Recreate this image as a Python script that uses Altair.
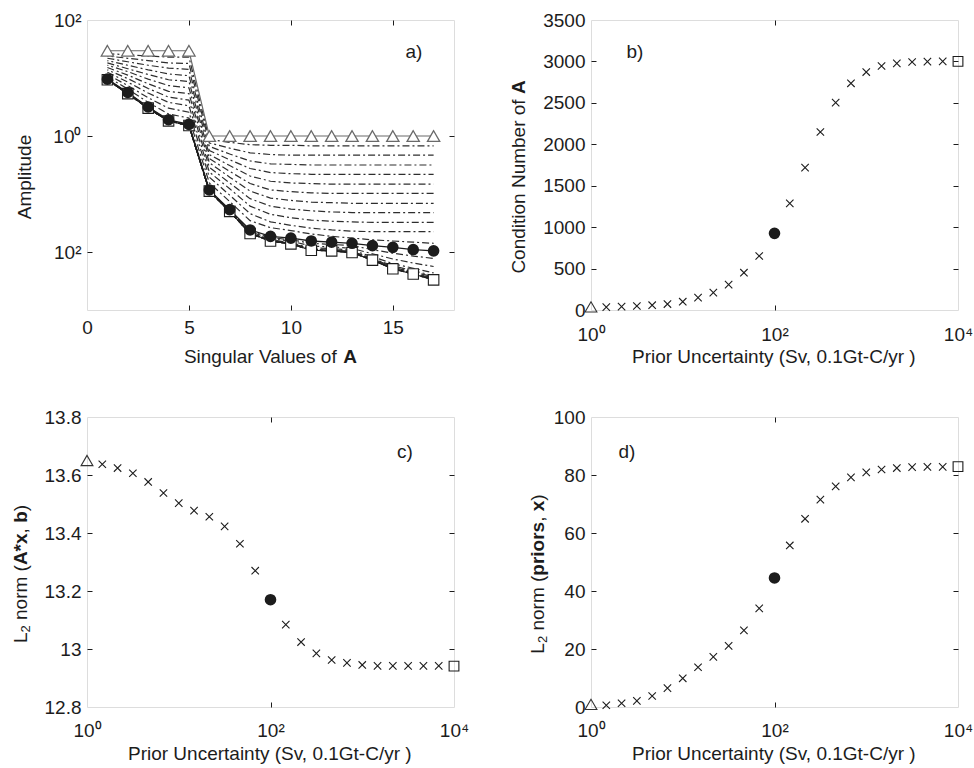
import altair as alt
import pandas as pd

FONT = "Liberation Sans, Arial, Helvetica, sans-serif"
INK = "#1c1c1c"
FS = 19
W, H = 367, 290

# ---------------- panel a: log10(amplitude) per singular value ----------------
sv = [1, 2, 3, 4, 5, 6, 7, 8, 9, 10, 11, 12, 13, 14, 15, 16, 17]
prior_log = [1.47, 1.47, 1.47, 1.47, 1.47, 0, 0, 0, 0, 0, 0, 0, 0, 0, 0, 0, 0]
circle_log = [0.98, 0.75, 0.50, 0.28, 0.20, -0.93, -1.27, -1.62, -1.73, -1.76, -1.81, -1.83, -1.85, -1.89, -1.92, -1.96, -1.98]
square_log = [0.97, 0.73, 0.48, 0.26, 0.18, -0.95, -1.30, -1.68, -1.81, -1.86, -1.97, -1.98, -2.01, -2.14, -2.29, -2.38, -2.48]

upper_lines = [
    [1.42, 1.40, 1.38, 1.36, 1.36, -0.06, -0.11, -0.15, -0.16, -0.16, -0.17, -0.17, -0.17, -0.17, -0.17, -0.17, -0.17],
    [1.38, 1.34, 1.30, 1.26, 1.25, -0.12, -0.21, -0.29, -0.32, -0.33, -0.33, -0.33, -0.33, -0.33, -0.33, -0.33, -0.33],
    [1.34, 1.28, 1.22, 1.17, 1.15, -0.18, -0.31, -0.43, -0.48, -0.49, -0.50, -0.50, -0.50, -0.50, -0.50, -0.50, -0.50],
    [1.30, 1.22, 1.14, 1.07, 1.04, -0.25, -0.41, -0.56, -0.63, -0.65, -0.66, -0.66, -0.66, -0.66, -0.66, -0.66, -0.66],
    [1.26, 1.16, 1.06, 0.97, 0.94, -0.32, -0.51, -0.69, -0.78, -0.81, -0.82, -0.83, -0.83, -0.83, -0.83, -0.83, -0.83],
    [1.22, 1.11, 0.98, 0.87, 0.83, -0.39, -0.61, -0.82, -0.93, -0.96, -0.98, -0.99, -0.99, -0.99, -0.99, -0.99, -0.99],
    [1.18, 1.05, 0.90, 0.77, 0.73, -0.46, -0.71, -0.95, -1.07, -1.11, -1.14, -1.15, -1.16, -1.16, -1.16, -1.16, -1.16],
    [1.14, 0.99, 0.82, 0.67, 0.62, -0.54, -0.81, -1.08, -1.21, -1.26, -1.29, -1.31, -1.32, -1.32, -1.32, -1.32, -1.32],
    [1.10, 0.93, 0.74, 0.58, 0.52, -0.62, -0.91, -1.21, -1.35, -1.41, -1.45, -1.47, -1.48, -1.49, -1.49, -1.49, -1.49],
    [1.06, 0.87, 0.66, 0.48, 0.41, -0.71, -1.02, -1.34, -1.48, -1.54, -1.59, -1.62, -1.64, -1.65, -1.65, -1.65, -1.65],
    [1.02, 0.81, 0.58, 0.38, 0.31, -0.81, -1.13, -1.46, -1.58, -1.63, -1.69, -1.73, -1.76, -1.79, -1.81, -1.83, -1.85],
]
lower_lines = [
    [0.98, 0.74, 0.49, 0.27, 0.19, -0.94, -1.28, -1.64, -1.75, -1.79, -1.85, -1.87, -1.89, -1.96, -2.02, -2.07, -2.11],
    [0.97, 0.74, 0.49, 0.27, 0.19, -0.94, -1.29, -1.65, -1.77, -1.81, -1.90, -1.91, -1.94, -2.03, -2.12, -2.19, -2.25],
    [0.97, 0.73, 0.48, 0.26, 0.18, -0.95, -1.29, -1.67, -1.79, -1.84, -1.93, -1.94, -1.97, -2.08, -2.20, -2.28, -2.36],
    [0.97, 0.73, 0.48, 0.26, 0.18, -0.95, -1.30, -1.67, -1.80, -1.85, -1.95, -1.96, -1.99, -2.11, -2.24, -2.32, -2.41],
    [0.97, 0.73, 0.48, 0.26, 0.18, -0.95, -1.30, -1.67, -1.80, -1.85, -1.95, -1.97, -1.99, -2.12, -2.25, -2.34, -2.43],
    [0.97, 0.73, 0.48, 0.26, 0.18, -0.95, -1.30, -1.68, -1.80, -1.85, -1.96, -1.97, -2.00, -2.12, -2.26, -2.35, -2.45],
    [0.97, 0.73, 0.48, 0.26, 0.18, -0.95, -1.30, -1.68, -1.81, -1.86, -1.96, -1.97, -2.00, -2.13, -2.27, -2.36, -2.46],
    [0.97, 0.73, 0.48, 0.26, 0.18, -0.95, -1.30, -1.68, -1.81, -1.86, -1.97, -1.98, -2.01, -2.13, -2.28, -2.37, -2.47],
    [0.97, 0.73, 0.48, 0.26, 0.18, -0.95, -1.30, -1.68, -1.81, -1.86, -1.97, -1.98, -2.01, -2.14, -2.28, -2.37, -2.47],
    [0.97, 0.73, 0.48, 0.26, 0.18, -0.95, -1.30, -1.68, -1.81, -1.86, -1.97, -1.98, -2.01, -2.14, -2.29, -2.38, -2.48],
    [0.97, 0.73, 0.48, 0.26, 0.18, -0.95, -1.30, -1.68, -1.81, -1.86, -1.97, -1.98, -2.01, -2.14, -2.29, -2.38, -2.48],
]

# ---------------- panels b, c, d ----------------
prior_unc = [1, 1.468, 2.154, 3.162, 4.642, 6.813, 10, 14.68, 21.54, 31.62, 46.42, 68.13, 100,
             146.8, 215.4, 316.2, 464.2, 681.3, 1000, 1468, 2154, 3162, 4642, 6813, 10000]
cond_num = [38, 35, 40, 48, 58, 72, 100, 149, 209, 306, 450, 652, 925,
            1287, 1718, 2148, 2502, 2736, 2872, 2945, 2977, 2993, 2997, 3001, 3001]
misfit_norm = [13.650, 13.637, 13.624, 13.606, 13.576, 13.538, 13.503, 13.477, 13.456, 13.423, 13.363, 13.270, 13.170,
               13.084, 13.024, 12.985, 12.962, 12.952, 12.945, 12.942, 12.942, 12.942, 12.942, 12.942, 12.941]
prior_dist = [0.9, 0.6, 1.3, 2.1, 3.8, 6.5, 9.9, 13.7, 17.3, 21.1, 26.4, 34.0, 44.5,
              55.7, 64.9, 71.5, 76.1, 79.2, 80.9, 81.9, 82.4, 82.7, 82.8, 82.8, 82.9]

# ---------------- text metrics (Arial / Liberation Sans, per 1000 em) ----------------
W_REG = {' ': 278, '(': 333, ')': 333, '*': 389, ',': 278, '-': 333, '.': 278, '/': 278,
         'A': 667, 'C': 722, 'G': 778, 'L': 556, 'N': 722, 'P': 667, 'S': 667, 'U': 722, 'V': 667,
         'a': 556, 'b': 556, 'c': 500, 'd': 556, 'e': 556, 'f': 278, 'g': 556, 'i': 222, 'l': 222,
         'm': 833, 'n': 556, 'o': 556, 'p': 556, 'r': 333, 's': 500, 't': 278, 'u': 556, 'v': 500,
         'x': 500, 'y': 500}
W_BOLD = {' ': 278, 'A': 722, 'b': 611, 'x': 556, '*': 389, 'p': 611, 'r': 389, 'i': 278,
          'o': 611, 's': 556, ',': 278}


def tw(s, bold, size):
    tbl = W_BOLD if bold else W_REG
    return sum(tbl.get(ch, 556) for ch in s) * size / 1000.0


ONE = pd.DataFrame({"o": [0]})


def piece(txt, x, y, bold=False, size=FS, angle=None, align="left", baseline="alphabetic"):
    props = dict(text=txt, font=FONT, fontSize=size, color=INK, align=align, baseline=baseline)
    if bold:
        props["fontWeight"] = "bold"
    if angle is not None:
        props["angle"] = angle
    return alt.Chart(ONE).mark_text(**props).encode(x=alt.value(x), y=alt.value(y))


def rich(segs, cx, cy, vertical):
    widths = [tw(t, b, s) for (t, b, s, sh) in segs]
    pos = -sum(widths) / 2.0
    out = []
    for (t, b, s, sh), w in zip(segs, widths):
        if t.strip():
            if vertical:
                out.append(piece(t, cx + sh, cy - pos, bold=b, size=s, angle=270, baseline="middle"))
            else:
                out.append(piece(t, cx + pos, cy + sh, bold=b, size=s))
        pos += w
    return out


def anchor(x, y):
    return alt.Chart(ONE).mark_rule(opacity=0, strokeWidth=1).encode(
        x=alt.value(x), y=alt.value(y), y2=alt.value(y + 1))


def frame(df, xf, yf, xs, ys, xvals, yvals, xin, yin, xpad, ypad, xexpr=None, yexpr=None, yfmt=None):
    lab = dict(domain=False, grid=False, title=None, ticks=False, tickSize=0, labelFont=FONT,
               labelFontSize=FS, labelColor=INK, labelFlush=False, labelOverlap=False)
    xa = dict(lab, orient="bottom", values=xvals, labelPadding=xpad)
    if xexpr:
        xa["labelExpr"] = xexpr
    ya = dict(lab, orient="left", values=yvals, labelPadding=ypad)
    if yexpr:
        ya["labelExpr"] = yexpr
    if yfmt:
        ya["format"] = yfmt
    tk = dict(domain=False, grid=False, title=None, labels=False, ticks=True, tickSize=5,
              tickColor=INK, tickWidth=1)
    base = alt.Chart(df).mark_point(opacity=0)
    m = base.encode(x=alt.X(xf, scale=xs, axis=alt.Axis(**xa)), y=alt.Y(yf, scale=ys, axis=alt.Axis(**ya)))
    t1 = base.encode(x=alt.X(xf, scale=xs, axis=alt.Axis(orient="top", offset=-H, values=xin, **tk)),
                     y=alt.Y(yf, scale=ys, axis=alt.Axis(orient="right", offset=-W, values=yin, **tk)))
    t2 = base.encode(x=alt.X(xf, scale=xs, axis=alt.Axis(orient="bottom", offset=-H, values=xin, **tk)),
                     y=alt.Y(yf, scale=ys, axis=alt.Axis(orient="left", offset=-W, values=yin, **tk)))
    return [m, t1, t2]


# ---------------- build panel a ----------------
rows = []
for i, vals in enumerate(upper_lines + lower_lines):
    for x, v in zip(sv, vals):
        rows.append({"sv": x, "amp": v, "line": i, "par": i % 2})
lines_df = pd.DataFrame(rows)
ser_df = pd.DataFrame({"sv": sv, "prior": prior_log, "circ": circle_log, "sq": square_log})

xs_a = alt.Scale(domain=[0, 18], nice=False, zero=False)
ys_a = alt.Scale(domain=[-3, 2], nice=False, zero=False)
XA = alt.X("sv:Q", scale=xs_a, axis=None)


def YA(f):
    return alt.Y(f + ":Q", scale=ys_a, axis=None)


DASH = [7, 3, 2, 3]
DCOL = "#2e2e2e"
dash0 = alt.Chart(lines_df).transform_filter("datum.par == 0").mark_line(
    strokeDash=DASH, strokeWidth=1.2, color=DCOL).encode(XA, YA("amp"), detail="line:N")
dash1 = alt.Chart(lines_df).transform_filter("datum.par == 1").mark_line(
    strokeDash=DASH, strokeDashOffset=6, strokeWidth=1.2, color=DCOL).encode(XA, YA("amp"), detail="line:N")
sa = alt.Chart(ser_df)
prior_line = sa.mark_line(color="#6a6a6a", strokeWidth=1.2).encode(XA, YA("prior"))
sq_line = sa.mark_line(color=INK, strokeWidth=1.2).encode(XA, YA("sq"))
circ_line = sa.mark_line(color=INK, strokeWidth=1.3).encode(XA, YA("circ"))
sq_pts = sa.mark_point(shape="square", size=110, filled=True, fill="white", stroke=INK,
                       strokeWidth=1.1, opacity=1).encode(XA, YA("sq"))
circ_pts = sa.mark_point(shape="circle", size=135, filled=True, color=INK, opacity=1).encode(XA, YA("circ"))
tri_pts = sa.mark_point(shape="triangle-up", size=150, filled=True, fill="white", stroke="#6a6a6a",
                        strokeWidth=1.3, opacity=1).encode(XA, YA("prior"))

frame_a = frame(ser_df, "sv:Q", "circ:Q", xs_a, ys_a, [0, 5, 10, 15], [2, 0, -2], [5, 10, 15], [0, -2],
                8, 6, yexpr="datum.value == 0 ? '10\u2070' : '10\u00b2'")

panel_a = alt.layer(
    dash0, dash1, prior_line, sq_line, circ_line, sq_pts, circ_pts, tri_pts, *frame_a,
    *rich([("Amplitude", False, FS, 0)], -62, 157, True),
    *rich([("Singular Values of", False, FS, 0), (" ", False, FS, 0), ("A", True, FS, 0)], 183.5, 343, False),
    piece("a)", 327, 32, align="center", baseline="middle"),
    anchor(-86.5, -19.5),
).resolve_axis(x="independent", y="independent").properties(width=W, height=H)

# ---------------- build panels b, c, d ----------------
kinds = []
for k in range(len(prior_unc)):
    kinds.append("tri" if k == 0 else ("dot" if k == 12 else ("sq" if k == 24 else "x")))
bd_df = pd.DataFrame({"u": prior_unc, "cond": cond_num, "mis": misfit_norm, "dist": prior_dist, "kind": kinds})

CROSS = "M-1,-1L1,1M-1,1L1,-1"
XS_LOG = alt.Scale(type="log", domain=[1, 10000], nice=False)
LOG_EXPR = "datum.value == 1 ? '10\u2070' : (datum.value == 100 ? '10\u00b2' : '10\u2074')"
X_TITLE = [("Prior Uncertainty (Sv, 0.1Gt-C/yr )", False, FS, 0)]


def panel_bd(field, ys, yvals, yin, yfmt, ytitle, ycx, lab, labxy, xpad, anchors=()):
    X = alt.X("u:Q", scale=XS_LOG, axis=None)
    Y = alt.Y(field + ":Q", scale=ys, axis=None)
    b = alt.Chart(bd_df)
    cross = b.transform_filter("datum.kind == 'x'").mark_point(
        shape=CROSS, size=55, filled=False, color=INK, strokeWidth=1.1, opacity=1).encode(X, Y)
    dot = b.transform_filter("datum.kind == 'dot'").mark_point(
        shape="circle", size=135, filled=True, color=INK, opacity=1).encode(X, Y)
    tri = b.transform_filter("datum.kind == 'tri'").mark_point(
        shape="triangle-up", size=140, filled=False, color="#333333", strokeWidth=1.1, opacity=1).encode(X, Y)
    sq = b.transform_filter("datum.kind == 'sq'").mark_point(
        shape="square", size=95, filled=False, color=INK, strokeWidth=1.1, opacity=1).encode(X, Y)
    fr = frame(bd_df, "u:Q", field + ":Q", XS_LOG, ys, [1, 100, 10000], yvals, [100], yin,
               xpad, 6, xexpr=LOG_EXPR, yfmt=yfmt)
    layers = [cross, dot, tri, sq, *fr,
              *rich(ytitle, ycx, 157, True),
              *rich(X_TITLE, 183.5, 343, False),
              piece(lab, labxy[0], labxy[1], align="center", baseline="middle"),
              *anchors]
    return alt.layer(*layers).resolve_axis(x="independent", y="independent").properties(width=W, height=H)


panel_b = panel_bd(
    "cond", alt.Scale(domain=[0, 3500], nice=False, zero=False),
    [0, 500, 1000, 1500, 2000, 2500, 3000, 3500], [500, 1000, 1500, 2000, 2500, 3000], "d",
    [("Condition Number of", False, FS, 0), (" ", False, FS, 0), ("A", True, FS, 0)], -72.5,
    "b)", (44, 32), 15)

panel_c = panel_bd(
    "mis", alt.Scale(domain=[12.8, 13.8], nice=False, zero=False),
    [12.8, 13.0, 13.2, 13.4, 13.6, 13.8], [13.0, 13.2, 13.4, 13.6], ".1~f",
    [("L", False, FS, 0), ("2", False, 13, 5), (" ", False, FS, 0), ("norm (", False, FS, 0),
     ("A*x", True, FS, 0), (",", False, FS, 0), (" ", False, FS, 0), ("b", True, FS, 0), (")", False, FS, 0)],
    -66, "c)", (318, 35), 14)

panel_d = panel_bd(
    "dist", alt.Scale(domain=[0, 100], nice=False, zero=False),
    [0, 20, 40, 60, 80, 100], [20, 40, 60, 80], "d",
    [("L", False, FS, 0), ("2", False, 13, 5), (" ", False, FS, 0), ("norm (", False, FS, 0),
     ("priors", True, FS, 0), (",", False, FS, 0), (" ", False, FS, 0), ("x", True, FS, 0), (")", False, FS, 0)],
    -53, "d)", (36, 35), 14, anchors=(anchor(382.5, 349.5),))

chart = alt.concat(
    panel_a, panel_b, panel_c, panel_d, columns=2,
    spacing={"row": 107, "column": 137}, bounds="flush",
).properties(padding=0).configure_view(stroke=INK, strokeWidth=1).configure(font=FONT)

chart.save("out.html", embed_options={"renderer": "svg", "actions": False})
